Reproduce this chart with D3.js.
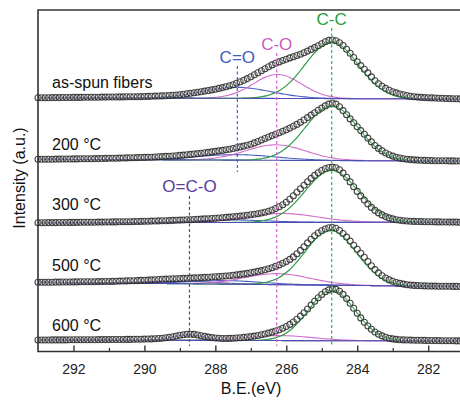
<!DOCTYPE html>
<html><head><meta charset="utf-8">
<script src="https://cdn.jsdelivr.net/npm/d3@7"></script>
<style>html,body{margin:0;padding:0;background:#fff;overflow:hidden}</style>
</head><body><svg id="c" width="460" height="400"></svg>
<script>
// ---------- DATA ----------
const seriesNames = ["as-spun fibers", "200 °C", "300 °C", "500 °C", "600 °C"];
// binding energy grid (eV), 293.0 -> 281.0 in 0.1 eV steps
const energies = d3.range(121).map(i => +(293 - i * 0.1).toFixed(1));
const xTicksMajor = [292, 290, 288, 286, 284, 282];
const xTicksMinor = [291, 289, 287, 285, 283];
// vertical stacking offset of each spectrum (a.u.)
const offsets = [253.8, 192.2, 128.8, 69.2, 11.5];
// linear background: value at 293 eV and at 281 eV (a.u.)
const backgroundLeft = [0, 0, 0, 0, 0];
const backgroundRight = [-1.3, -1.8, 0.5, -4.2, -1.0];

// measured intensities (a.u., relative to offset)
const asSpun = [0,0,0,0,0.1,0.1,0.1,0.2,0.2,0.2,
0.3,0.3,0.3,0.4,0.4,0.4,0.5,0.5,0.6,0.6,
0.7,0.7,0.7,0.8,0.8,0.9,0.9,1.0,1.0,1.1,
1.2,1.3,1.4,1.6,1.7,1.8,2.0,2.2,2.4,2.7,
3.0,3.4,3.9,4.4,4.9,5.5,6.0,6.6,7.2,7.8,
8.5,9.3,10.1,11.0,12.0,13.0,14.4,15.9,17.4,19.1,
21.0,23.0,25.0,27.0,29.0,31.0,32.8,34.4,35.8,37.2,
38.5,39.8,41.0,42.2,43.5,45.0,46.6,48.3,50.1,52.0,
54.0,55.9,57.3,57.7,57.0,55.0,52.2,48.5,44.4,40.2,
36.0,32.1,28.4,24.8,20.8,17.0,14.0,11.5,9.3,7.5,
6.0,4.8,3.7,2.9,2.2,1.5,1.0,0.6,0.3,0.1,
0,-0.2,-0.3,-0.5,-0.6,-0.8,-0.9,-1.0,-1.1,-1.2,
-1.3];
const t200 = [0,0,0.1,0.1,0.1,0.2,0.2,0.3,0.3,0.3,
0.4,0.4,0.5,0.5,0.6,0.6,0.7,0.7,0.8,0.9,
1.0,1.0,1.1,1.2,1.3,1.4,1.5,1.6,1.7,1.8,
1.9,2.0,2.1,2.3,2.5,2.7,2.9,3.1,3.3,3.6,
3.9,4.2,4.5,4.9,5.3,5.7,6.1,6.5,6.9,7.4,
7.9,8.4,8.9,9.5,10.1,10.8,11.6,12.4,13.2,14.1,
15.0,16.4,17.8,19.3,20.8,22.3,23.7,25.1,26.5,28.0,
29.5,31.2,33.0,34.9,37.0,39.3,41.7,44.2,46.6,49.0,
51.2,53.4,55.2,56.0,55.2,52.5,48.7,44.6,40.4,36.5,
32.6,28.7,25.0,21.2,17.4,13.8,10.9,8.4,6.3,4.6,
3.2,2.1,1.3,0.6,0.1,-0.3,-0.6,-0.8,-1.0,-1.1,
-1.2,-1.3,-1.4,-1.4,-1.5,-1.5,-1.6,-1.6,-1.7,-1.7,
-1.8];
const t300 = [0,0,0,0.1,0.1,0.1,0.2,0.2,0.2,0.3,
0.3,0.3,0.4,0.4,0.4,0.5,0.5,0.6,0.6,0.7,
0.7,0.8,0.8,0.9,0.9,1.0,1.0,1.1,1.2,1.3,
1.4,1.5,1.6,1.7,1.8,1.9,2.0,2.1,2.3,2.4,
2.6,2.7,2.9,3.0,3.2,3.4,3.6,3.8,4.0,4.2,
4.5,4.7,5.0,5.3,5.6,5.9,6.2,6.6,7.0,7.4,
7.9,8.4,9.0,9.7,10.5,11.5,12.7,14.2,16.0,18.0,
20.5,23.5,27.0,30.5,34.0,37.5,41.0,44.3,47.3,50.0,
52.2,54.0,55.2,55.6,55.0,52.9,49.6,45.4,40.8,36.0,
31.3,26.8,22.6,18.8,15.3,12.3,9.8,7.8,6.1,4.8,
3.8,3.0,2.4,2.0,1.7,1.5,1.3,1.2,1.1,1.0,
0.9,0.9,0.8,0.8,0.7,0.7,0.6,0.6,0.6,0.5,
0.5];
const t500 = [0,0,0.1,0.1,0.1,0.2,0.2,0.3,0.3,0.3,
0.4,0.4,0.5,0.5,0.5,0.6,0.6,0.7,0.7,0.8,
0.8,0.9,1.0,1.2,1.3,1.4,1.5,1.6,1.7,1.9,
2.0,2.2,2.4,2.6,2.8,3.0,3.2,3.3,3.5,3.6,
3.8,3.9,4.1,4.2,4.4,4.5,4.7,4.9,5.1,5.3,
5.5,5.8,6.0,6.3,6.6,7.0,7.4,7.9,8.4,8.9,
9.5,10.2,10.9,11.7,12.5,13.5,14.6,15.9,17.4,19.0,
20.8,22.9,25.4,28.5,31.9,35.6,39.4,43.1,46.5,49.3,
51.5,53.3,54.5,54.8,54.0,51.8,48.8,45.2,41.2,37.1,
33.0,29.0,25.0,20.8,16.6,12.7,9.4,6.6,4.3,2.4,
1.0,-0.2,-1.1,-1.8,-2.4,-2.8,-3.1,-3.3,-3.5,-3.6,
-3.7,-3.8,-3.8,-3.9,-3.9,-4.0,-4.0,-4.1,-4.1,-4.2,
-4.2];
const t600 = [0,0,0,0,0.1,0.1,0.1,0.1,0.1,0.2,
0.2,0.2,0.2,0.3,0.3,0.3,0.3,0.4,0.4,0.4,
0.4,0.5,0.5,0.5,0.5,0.6,0.6,0.7,0.7,0.8,
0.9,1.0,1.1,1.3,1.5,1.8,2.2,2.7,3.3,4.0,
4.7,5.3,5.7,5.8,5.6,5.0,4.3,3.6,2.9,2.4,
2.0,1.7,1.5,1.5,1.6,1.8,2.0,2.3,2.6,3.0,
3.4,3.9,4.5,5.2,6.0,6.9,7.9,9.0,10.3,11.7,
13.5,15.6,18.0,20.8,23.9,27.3,31.0,34.9,38.7,42.3,
45.5,48.2,50.1,51.0,50.6,48.7,45.6,41.4,36.7,31.7,
26.8,22.1,17.8,14.0,10.7,8.0,5.8,4.1,2.8,1.8,
1.1,0.6,0.3,0.1,0,-0.1,-0.2,-0.3,-0.3,-0.4,
-0.5,-0.5,-0.6,-0.6,-0.7,-0.7,-0.8,-0.8,-0.9,-0.9,
-1.0];
const spectra = [asSpun, t200, t300, t500, t600];

// fitted peak components, one value per spectrum (height 0 = not fitted)
const peakNames = ["O=C-O", "C=O", "C-O", "C-C"];
const peakOCO_center = [288.8, 288.8, 288.8, 289.0, 288.75];
const peakOCO_height = [0, 0, 0, 2.5, 5.5];
const peakOCO_fwhm   = [1.2, 1.2, 1.2, 2.4, 1.1];
const peakCdO_center = [287.4, 287.4, 287.6, 287.7, 287.5];
const peakCdO_height = [11, 5.5, 2.5, 3.5, 0];
const peakCdO_fwhm   = [2.3, 2.6, 2.5, 2.4, 2.0];
const peakCO_center  = [286.25, 286.3, 286.15, 286.25, 286.2];
const peakCO_height  = [24, 15.5, 9, 11, 5];
const peakCO_fwhm    = [1.6, 2.0, 2.4, 2.2, 2.2];
const peakCC_center  = [284.72, 284.72, 284.72, 284.75, 284.72];
const peakCC_height  = [56.5, 54.5, 52, 54.7, 50.4];
const peakCC_fwhm    = [1.75, 1.75, 1.75, 1.7, 1.55];

// reference lines (eV) for the chemical states
const refNames = ["C-C", "C-O", "C=O", "O=C-O"];
const refEnergies = [284.72, 286.27, 287.38, 288.73];

// ---------- DRAW ----------
(function () {
const svg = d3.select("#c");
const mLeft = 38, mTop = 10, mBottom = 351.5;
const x = d3.scaleLinear().domain([293, 281]).range([mLeft, mLeft + 12 * 35.47]);
const y = d3.scaleLinear().domain([0, mBottom - mTop]).range([mBottom, mTop]);
const FONT = "'Liberation Sans', Arial, Helvetica, sans-serif";

const colors = {
  data: "#262626", fill: "#ffffff", bg: "#4b4fae",
  "O=C-O": "#7b52b8", "C=O": "#4a5fc4", "C-O": "#d46ccc", "C-C": "#2f9e44"
};
const peaks = [
  {name: "O=C-O", c: peakOCO_center, h: peakOCO_height, f: peakOCO_fwhm},
  {name: "C=O", c: peakCdO_center, h: peakCdO_height, f: peakCdO_fwhm},
  {name: "C-O", c: peakCO_center, h: peakCO_height, f: peakCO_fwhm},
  {name: "C-C", c: peakCC_center, h: peakCC_height, f: peakCC_fwhm}
];
const K = 4 * Math.LN2;
function bg(i, e) {
  return backgroundLeft[i] + (backgroundRight[i] - backgroundLeft[i]) * (293 - e) / 12;
}
function comp(p, i, es) {
  return es.map(e => {
    const d = e - p.c[i];
    return [e, offsets[i] + bg(i, e) + p.h[i] * Math.exp(-K * d * d / (p.f[i] * p.f[i]))];
  });
}

const plot = svg.append("g");
const line = d3.line().x(d => x(d[0])).y(d => y(d[1])).curve(d3.curveMonotoneX);

spectra.forEach((vals, i) => {
  const g = plot.append("g");
  peaks.forEach(p => {
    if (!p.h[i]) return;
    g.append("path").attr("d", line(comp(p, i, energies)))
      .attr("fill", "none").attr("stroke", colors[p.name]).attr("stroke-width", 1.1);
  });
  g.append("path")
    .attr("d", line(energies.map(e => [e, offsets[i] + bg(i, e)])))
    .attr("fill", "none").attr("stroke", colors.bg).attr("stroke-width", 1.1);
  g.selectAll("circle").data(vals.map((v, j) => [energies[j], v + offsets[i]]))
    .join("circle")
    .attr("cx", d => x(d[0])).attr("cy", d => y(d[1])).attr("r", 3)
    .attr("fill", colors.fill).attr("fill-opacity", 0.25)
    .attr("stroke", colors.data).attr("stroke-width", 1.1).attr("stroke-opacity", 0.85);
  // the C-C component shows through the markers near its peak
  const p = peaks[3];
  const near = energies.filter(e => Math.abs(e - p.c[i]) <= p.f[i] * 1.3);
  g.append("path").attr("d", line(comp(p, i, near)))
    .attr("fill", "none").attr("stroke", colors["C-C"]).attr("stroke-width", 0.9)
    .attr("stroke-opacity", 0.6);
});

const refLayout = {
  "C-C":   {y1: 28, y2: 346, ly: 25, line: "#2fb34a", text: "#22a03c"},
  "C-O":   {y1: 53, y2: 346, ly: 50, line: "#d060c8", text: "#c75cbd"},
  "C=O":   {y1: 66, y2: 172, ly: 63, line: "#4a5fc4", text: "#3f5cc0"},
  "O=C-O": {y1: 196, y2: 346, ly: 192, line: "#555", text: "#5a3a9e"}
};
refNames.forEach((n, k) => {
  const L = refLayout[n];
  const xx = x(refEnergies[k]);
  svg.append("line").attr("x1", xx).attr("x2", xx).attr("y1", L.y1).attr("y2", L.y2)
    .attr("stroke", L.line).attr("stroke-width", 1.2).attr("stroke-dasharray", "3,2.5");
  svg.append("text").attr("x", xx).attr("y", L.ly).attr("text-anchor", "middle")
    .attr("font-family", FONT).attr("font-size", 17).attr("fill", L.text).text(n);
});

const labelY = [88, 150, 210, 270.5, 330.5];
seriesNames.forEach((n, i) => {
  svg.append("text").attr("x", 52).attr("y", labelY[i])
    .attr("font-family", FONT).attr("font-size", 16).attr("fill", "#111").text(n);
});

svg.append("path").attr("d", `M460,${mTop}H${mLeft}V${mBottom}H460`)
  .attr("fill", "none").attr("stroke", "#333").attr("stroke-width", 1.6);

const ax = svg.append("g").attr("transform", `translate(0,${mBottom})`);
ax.call(d3.axisBottom(x).tickValues(xTicksMajor).tickSize(-6).tickPadding(13)
    .tickFormat(d3.format("d")))
  .call(g => g.select(".domain").remove())
  .call(g => g.selectAll("line").attr("stroke", "#333").attr("stroke-width", 1.4))
  .call(g => g.selectAll("text").attr("font-family", FONT).attr("font-size", 14).attr("fill", "#222"));
const axm = svg.append("g").attr("transform", `translate(0,${mBottom})`);
axm.call(d3.axisBottom(x).tickValues(xTicksMinor).tickSize(-3.5).tickFormat(""))
  .call(g => g.select(".domain").remove())
  .call(g => g.selectAll("line").attr("stroke", "#333").attr("stroke-width", 1.2));

svg.append("text").attr("x", 251).attr("y", 394).attr("text-anchor", "middle")
  .attr("font-family", FONT).attr("font-size", 16).attr("fill", "#111").text("B.E.(eV)");
svg.append("text").attr("transform", "translate(25,178) rotate(-90)").attr("text-anchor", "middle")
  .attr("font-family", FONT).attr("font-size", 16).attr("fill", "#111").text("Intensity (a.u.)");
})();
</script>
</body></html>
